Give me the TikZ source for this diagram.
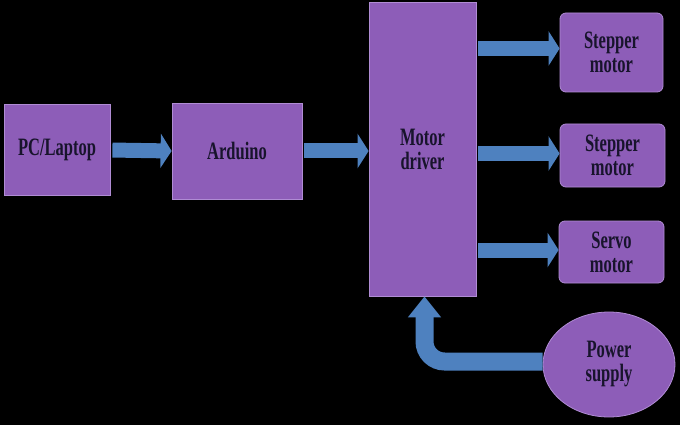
\documentclass[tikz,border=0pt]{standalone}
\usepackage{fontspec}
\setmainfont{Liberation Serif}[FakeStretch=0.66]
\usetikzlibrary{arrows.meta,shapes.geometric}

\definecolor{boxpurple}{RGB}{141,93,184}
\definecolor{edgepurple}{RGB}{176,140,212}
\definecolor{arrblue}{RGB}{78,129,191}
\definecolor{txtdark}{RGB}{24,20,44}

\tikzset{
  blk/.style={draw=edgepurple,line width=.8pt,fill=boxpurple,text=txtdark,
    font=\bfseries\fontsize{25}{24}\selectfont,align=center,inner sep=0pt},
  motorbox/.style={blk,rounded corners=6pt},
  blockarr/.style={draw=arrblue,line width=15pt,
    -{Triangle[length=11pt,width=34pt]}},
}

\begin{document}
\begin{tikzpicture}[x=1pt,y=-1pt]
\fill[black] (0,0) rectangle (680,425);

% blocks
\node[blk,minimum width=106pt,minimum height=91pt] (pc) at (57,150) {PC/Laptop};
\node[blk,minimum width=130pt,minimum height=96pt] (ard) at (237,151) {Arduino};
\node[blk,minimum width=107pt,minimum height=294pt] (drv) at (422.5,149) {Motor\\driver};
\node[motorbox,minimum width=103pt,minimum height=79pt] (stepA) at (611.5,52.5) {Stepper\\motor};
\node[motorbox,minimum width=105pt,minimum height=63pt] (stepB) at (612.5,155.5) {Stepper\\motor};
\node[motorbox,minimum width=105pt,minimum height=62pt] (servo) at (611.5,252) {Servo\\motor};
\node[blk,ellipse,minimum width=132pt,minimum height=105pt] (pwr) at (609,364.5) {Power\\supply};

% arrows
\draw[blockarr,shorten <=2pt] (pc.east) -- (ard.west);
\draw[blockarr,shorten <=2pt] (ard.east) -- (ard.east -| drv.west);
\draw[blockarr,shorten <=2pt] ([yshift=4pt]drv.east |- stepA.west) -- ([yshift=4pt]stepA.west);
\draw[blockarr,shorten <=2pt] ([yshift=2pt]drv.east |- stepB.west) -- ([yshift=2pt]stepB.west);
\draw[blockarr,shorten <=2pt] ([yshift=2pt]drv.east |- servo.west) -- ([yshift=2pt]servo.west);
\draw[blockarr,line width=18pt,rounded corners=20pt,-{Triangle[length=21pt,width=32pt]}]
  ([yshift=3pt]pwr.west) -| ([xshift=2pt]drv.south);
\end{tikzpicture}
\end{document}
